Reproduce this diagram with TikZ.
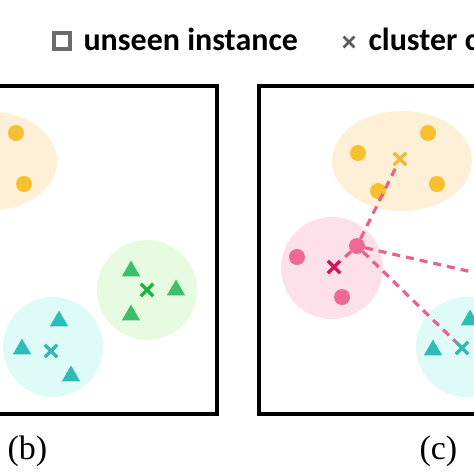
\documentclass[tikz,border=0pt]{standalone}
\usepackage{fontspec}
\setmainfont{Liberation Serif}
\setsansfont{Carlito}
\usetikzlibrary{positioning, shapes.geometric, shapes.misc}

\definecolor{gold}{HTML}{F8BF2E}
\definecolor{ylfill}{HTML}{FDF0D6}
\definecolor{ylcross}{HTML}{F2B93A}
\definecolor{grfill}{HTML}{E7FBE0}
\definecolor{grtri}{HTML}{3CBF68}
\definecolor{grcross}{HTML}{1DB446}
\definecolor{cyfill}{HTML}{DFFBF7}
\definecolor{cytri}{HTML}{2DBDB9}
\definecolor{cycross}{HTML}{33B8B4}
\definecolor{pkfill}{HTML}{FDE0EA}
\definecolor{pkdot}{HTML}{F06894}
\definecolor{pkcross}{HTML}{D8155A}
\definecolor{linkpink}{HTML}{E9628F}
\definecolor{legendgray}{HTML}{5A5A5A}

\begin{document}
\begin{tikzpicture}[x=1pt, y=-1pt,
  cluster/.style={circle, fill=#1, minimum size=100pt, inner sep=0pt},
  oval/.style={ellipse, fill=#1, minimum width=140pt, minimum height=100pt, inner sep=0pt},
  dot/.style={circle, fill=#1, minimum size=16pt, inner sep=0pt},
  tri/.style={regular polygon, regular polygon sides=3, fill=#1, minimum size=21pt, inner sep=0pt},
  ccross/.style={cross out, draw=#1, line width=3.3pt, minimum size=9pt, inner sep=0pt},
  link/.style={draw=linkpink, line width=3.2pt, dash pattern=on 8pt off 6pt},
  frame/.style={draw=black, line width=3.2pt},
  legend/.style={anchor=base west, font=\sffamily\bfseries\fontsize{32}{36}\selectfont},
  panel/.style={anchor=base west, font=\fontsize{34}{40}\selectfont}]
  \useasboundingbox (0,0) rectangle (474,474);
  \fill[white] (0,0) rectangle (474,474);
  \clip (0,0) rectangle (474,474);

  % Legend
  \node[draw=legendgray!90, line width=3.2pt, minimum size=16pt, inner sep=0pt] (sq) at (62,41) {};
  \node[legend] (unseen) at (80,50) {unseen instance};
  \node[cross out, draw=legendgray, line width=2.8pt, minimum size=8pt, inner sep=0pt] (lcross) at (349,42) {};
  \node[legend] (centre) at (365,50) {cluster center};

  % Panel (b)
  \node[oval=ylfill] (yclub) at (-13,161) {};
  \node[dot=gold] (yb1) at (16,133) {};
  \node[dot=gold] (yb2) at (24,184) {};

  \node[cluster=grfill] (gclub) at (147,290) {};
  \node[tri=grtri] (gb1) at (131,271) {};
  \node[tri=grtri] (gb2) at (176,290) {};
  \node[tri=grtri] (gb3) at (131,315) {};
  \node[ccross=grcross] (gcrossb) at (147,290) {};

  \node[cluster=cyfill] (cclub) at (53,347) {};
  \node[tri=cytri] (cb1) at (59,321) {};
  \node[tri=cytri] (cb2) at (22,349) {};
  \node[tri=cytri] (cb3) at (71,376) {};
  \node[ccross=cycross] (ccrossb) at (51,351) {};

  \draw[frame] (-20,86) rectangle (217,414);
  \node[panel] (labb) at (4,459) {(b)};

  % Panel (c)
  \node[oval=ylfill] (ycluc) at (402,161) {};
  \node[dot=gold] (yc1) at (358,153) {};
  \node[dot=gold] (yc2) at (428,133) {};
  \node[dot=gold] (yc3) at (437,184) {};
  \node[dot=gold] (yc4) at (378,191) {};
  \node[ccross=ylcross] (ycrossc) at (400,159) {};

  \node[cluster=pkfill, minimum size=102pt] (pcluc) at (332,268) {};
  \node[dot=pkdot] (pc1) at (297,257) {};
  \node[dot=pkdot] (pdot) at (357,246) {};
  \node[dot=pkdot] (pc3) at (342,297) {};
  \node[ccross=pkcross] (pcrossc) at (334,267) {};

  \node[cluster=cyfill] (ccluc) at (466,347) {};
  \node[tri=cytri] (cc1) at (433,350) {};
  \node[tri=cytri] (cc2) at (470,320) {};
  \node[ccross=cycross] (ccrossc) at (462,348) {};
  \coordinate (gcrossc) at (490,276);

  \draw[link] (pdot) -- (ycrossc);
  \draw[link] (pdot) -- (pcrossc);
  \draw[link] (pdot) -- (gcrossc);
  \draw[link] (pdot) -- (ccrossc);

  \draw[frame] (259,86) rectangle (500,414);
  \node[panel] (labc) at (416,459) {(c)};
\end{tikzpicture}
\end{document}
